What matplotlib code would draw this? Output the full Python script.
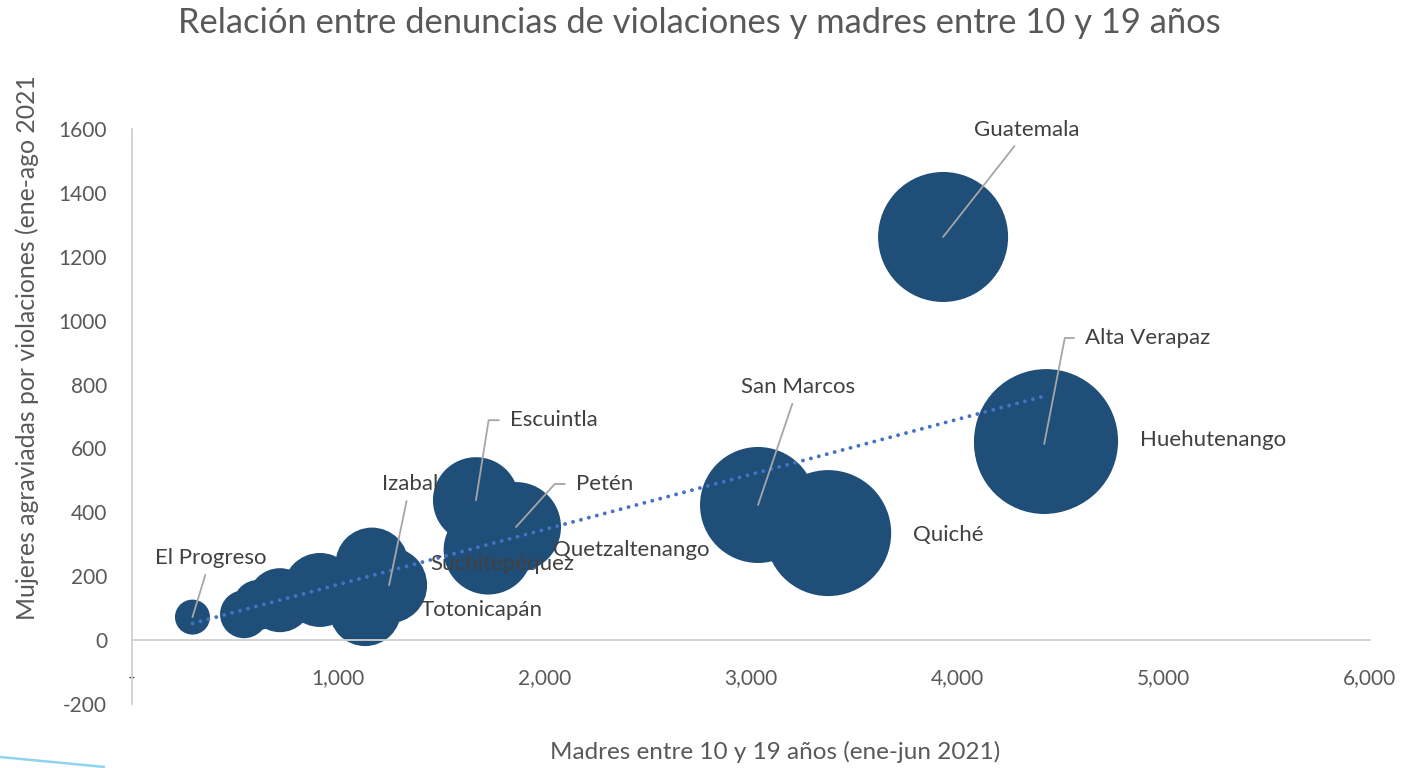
import matplotlib
matplotlib.use("Agg")
import matplotlib.pyplot as plt
from matplotlib.lines import Line2D
import numpy as np

plt.rcParams['font.family'] = ['Lato', 'DejaVu Sans']

# ---- data ----
departamentos = ["El Progreso", "", "", "", "", "Suchitepéquez", "Totonicapán", "Izabal",
                 "Escuintla", "Petén", "Quetzaltenango", "San Marcos", "Quiché",
                 "Guatemala", "Huehutenango", "Alta Verapaz"]
madres = [293, 543, 611, 717, 911, 1163, 1130, 1246,
          1667, 1861, 1726, 3034, 3374, 3931, 4430, 4421]
agraviadas = [72, 81, 110, 125, 157, 238, 94, 172,
              438, 354, 282, 423, 335, 1262, 623, 614]
tamano = [266, 500, 545, 890, 1190, 1158, 1127, 1256,
          1608, 1760, 1722, 2925, 3451, 3674, 4508, 4261]
x_ticks = [0, 1000, 2000, 3000, 4000, 5000, 6000]
x_ticklabels = ["-", "1,000", "2,000", "3,000", "4,000", "5,000", "6,000"]
y_ticks = [-200, 0, 200, 400, 600, 800, 1000, 1200, 1400, 1600]

title = "Relación entre denuncias de violaciones y madres entre 10 y 19 años"
xlabel = "Madres entre 10 y 19 años (ene-jun 2021)"
ylabel = "Mujeres agraviadas por violaciones (ene-ago 2021"

# ---- styles ----
BUBBLE = "#1F4E79"
TREND = "#4472C4"
TXT = "#595959"
LBL = "#404040"
AXIS = "#D0D0D0"
LEADER = "#A6A6A6"

W, H = 1401, 768
fig = plt.figure(figsize=(W / 100, H / 100), dpi=100)
ax = fig.add_axes([132 / W, 1 - 704 / H, (1370 - 132) / W, (704 - 129) / H])
ax.set_xlim(0, 6000)
ax.set_ylim(-200, 1600)

x = np.array(madres, dtype=float)
y = np.array(agraviadas, dtype=float)
s = np.array(tamano, dtype=float) * 2.385
ax.scatter(x, y, s=s, color=BUBBLE, edgecolors="none", zorder=2)

# linear trendline
m, b = np.polyfit(x, y, 1)
xt = np.array([x.min(), x.max()])
ax.plot(xt, m * xt + b, linestyle=(0, (0.01, 2.1)), dash_capstyle="round",
        color=TREND, lw=2.8, zorder=3)

# spines / axes
for sp in ["top", "right"]:
    ax.spines[sp].set_visible(False)
ax.spines["left"].set_position(("data", 0))
ax.spines["bottom"].set_position(("data", 0))
ax.spines["left"].set_color(AXIS)
ax.spines["bottom"].set_color(AXIS)
ax.spines["left"].set_linewidth(1.3)
ax.spines["bottom"].set_linewidth(1.3)
ax.set_xticks(x_ticks)
ax.set_xticklabels(x_ticklabels)
ax.set_yticks(y_ticks)
ax.set_yticklabels([str(v) for v in y_ticks])
ax.tick_params(axis="both", length=0, labelsize=15, labelcolor=TXT)
ax.tick_params(axis="x", pad=20)
ax.tick_params(axis="y", pad=18)

# data labels (offsets in pixels: dx, dy(up), ha, va, leader kind)
label_style = {
    "El Progreso": (18, 59, "center", "center", "straight", None),
    "Izabal": (21, 101, "center", "center", "straight", None),
    "Escuintla": (34, 80, "left", "center", "elbow", 81),
    "Petén": (60, 43, "left", "center", "elbow", 48),
    "Quetzaltenango": (65, 0, "left", "center", None, None),
    "Suchitepéquez": (58, 0, "left", "center", None, None),
    "Totonicapán": (55, 0, "left", "center", None, None),
    "San Marcos": (40, 118, "center", "center", "straight", None),
    "Quiché": (85, -2, "left", "center", None, None),
    "Guatemala": (84, 107, "center", "center", "straight", None),
    "Huehutenango": (94, 1, "left", "center", None, None),
    "Alta Verapaz": (41, 106, "left", "center", "elbow", 79),
}
for name, xv, yv in zip(departamentos, madres, agraviadas):
    if name not in label_style:
        continue
    dx, dy, ha, va, kind, ang = label_style[name]
    kw = {}
    if kind == "straight":
        kw["arrowprops"] = dict(arrowstyle="-", color=LEADER, lw=1.3,
                                shrinkA=3, shrinkB=0)
    elif kind == "elbow":
        kw["arrowprops"] = dict(arrowstyle="-", color=LEADER, lw=1.3,
                                shrinkA=6, shrinkB=0, relpos=(0, 0.5),
                                connectionstyle=f"angle,angleA=0,angleB={ang},rad=0")
    ax.annotate(name, (xv, yv), xytext=(dx, dy), textcoords="offset pixels",
                ha=ha, va=va, fontsize=16, color=LBL, zorder=5, **kw)

fig.text(699 / W, 1 - 23 / H, title, ha="center", va="center", fontsize=24.8, color=TXT)
fig.text(775 / W, 1 - 752 / H, xlabel, ha="center", va="center", fontsize=17.5, color=TXT)
fig.text(27 / W, 1 - 620 / H, ylabel, ha="center", va="bottom", rotation=90,
         fontsize=17.8, color=TXT)

# decorative swoosh at bottom-left of the slide
fig.add_artist(Line2D([0, 105 / W], [1 - 757 / H, 1 - 767 / H],
                      transform=fig.transFigure, color="#8FD3EE", lw=1.8,
                      solid_capstyle="butt"))

fig.savefig("out.png", dpi=100)
